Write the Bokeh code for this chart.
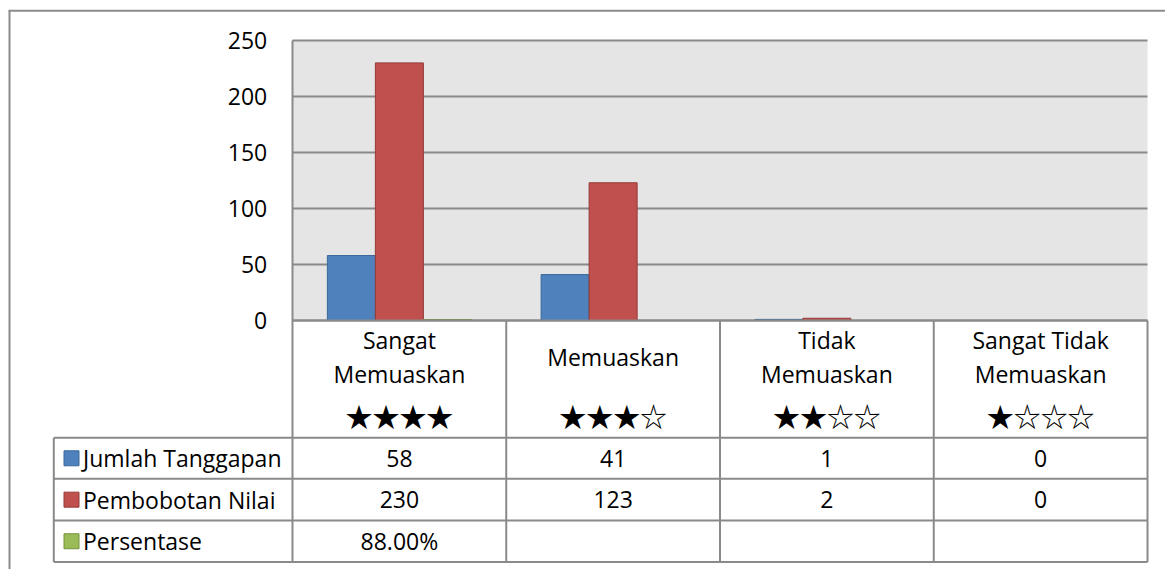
import numpy as np
from bokeh.plotting import figure
from bokeh.models import Range1d, ColumnDataSource
from bokeh.core.properties import value
from bokeh.embed import file_html
from bokeh.resources import INLINE

# ---------------- data ----------------
categories = ["Sangat Memuaskan", "Memuaskan", "Tidak Memuaskan", "Sangat Tidak Memuaskan"]
stars = ["★★★★", "★★★☆", "★★☆☆", "★☆☆☆"]
series_names = ["Jumlah Tanggapan", "Pembobotan Nilai", "Persentase"]
jumlah_tanggapan = [58, 41, 1, 0]
pembobotan_nilai = [230, 123, 2, 0]
persentase = [88.00, None, None, None]   # percent
y_ticks = [0, 50, 100, 150, 200, 250]

fill_colors = ["#4f81bd", "#c0504d", "#9bbb59"]
line_colors = ["#3a6899", "#953a37", "#76923c"]

# ---------------- layout (canvas pixels) ----------------
W, H = 1165, 569
PX0, PX1 = 292, 1147      # plot area left/right
PY0, PY1 = 40, 320        # plot area top/bottom
YMAX = y_ticks[-1]
ROWS = [437.3, 478.3, 520.0, 561.5]   # table row separators
LEG_X0 = 53.3
GRID = "#8a8a8a"
FONT = value("Open Sans")
FS = "23px"

n = len(categories)
ppu_x = (PX1 - PX0) / n
ppu_y = (PY1 - PY0) / YMAX

p = figure(width=W, height=H, x_range=Range1d(0, W), y_range=Range1d(H, 0),
           min_border=0, toolbar_location=None, output_backend="svg")
p.axis.visible = False
p.xgrid.visible = False
p.ygrid.visible = False
p.outline_line_color = None
p.background_fill_color = "white"
p.border_fill_color = "white"

p.extra_x_ranges = {"cat": Range1d(-PX0 / ppu_x, n + (W - PX1) / ppu_x)}
p.extra_y_ranges = {"val": Range1d(-(H - PY1) / ppu_y, YMAX + PY0 / ppu_y)}

# outer chart frame
p.segment(x0=[8, 9], y0=[10.3, 10.3], x1=[W, 9], y1=[10.3, H], line_color="#8c8c8c", line_width=2)

# plot area background
p.quad(left=[0], right=[n], bottom=[0], top=[YMAX], x_range_name="cat", y_range_name="val",
       fill_color="#e5e5e5", line_color=None)

# grid lines
p.segment(x0=[0] * len(y_ticks), x1=[n] * len(y_ticks), y0=y_ticks, y1=y_ticks,
          x_range_name="cat", y_range_name="val", line_color=GRID, line_width=2)

# bars
bar_w = 0.2246
series_vals = [jumlah_tanggapan, pembobotan_nilai,
               [v / 100 if v is not None else np.nan for v in persentase]]
idx = np.arange(n) + 0.5
for k, vals in enumerate(series_vals):
    v = np.array([np.nan if (x is None or x == 0) else x for x in vals], dtype=float)
    src = ColumnDataSource(dict(x=idx + (k - 1) * bar_w, top=v))
    p.vbar(x="x", top="top", bottom=0, width=bar_w, source=src,
           x_range_name="cat", y_range_name="val",
           fill_color=fill_colors[k], line_color=line_colors[k], line_width=1)

# re-draw axis line on top
p.segment(x0=[0], x1=[n], y0=[0], y1=[0], x_range_name="cat", y_range_name="val",
          line_color=GRID, line_width=2)

# table lines
p.segment(x0=[LEG_X0] * len(ROWS), x1=[PX1] * len(ROWS), y0=ROWS, y1=ROWS,
          line_color=GRID, line_width=2)
p.segment(x0=[LEG_X0, PX0], x1=[LEG_X0, PX0], y0=[ROWS[0], PY0], y1=[ROWS[-1], ROWS[-1]],
          line_color=GRID, line_width=2)
p.segment(x0=list(range(1, n + 1)), x1=list(range(1, n + 1)), y0=[PY1] * n, y1=[ROWS[-1]] * n,
          x_range_name="cat", line_color=GRID, line_width=2)

# y tick labels
p.text(x=[PX0 - 25.3] * len(y_ticks), y=y_ticks, text=[str(t) for t in y_ticks],
       y_range_name="val", text_font=FONT, text_font_size=FS, text_align="right",
       text_baseline="middle", text_color="black")

# header labels (first words on line 1, last word on line 2; single word centred)
l1_x, l1_t, l2_x, l2_t, s_x, s_t = [], [], [], [], [], []
for i, c in enumerate(categories):
    w = c.split(" ")
    if len(w) > 1:
        l1_x.append(idx[i]); l1_t.append(" ".join(w[:-1]))
        l2_x.append(idx[i]); l2_t.append(w[-1])
    else:
        s_x.append(idx[i]); s_t.append(c)
for xs, ts, yy in [(l1_x, l1_t, 339), (l2_x, l2_t, 373), (s_x, s_t, 356)]:
    p.text(x=xs, y=[yy] * len(xs), text=ts, x_range_name="cat", text_font=FONT,
           text_font_size=FS, text_align="center", text_baseline="middle", text_color="black")
p.text(x=idx, y=[415] * n, text=stars, x_range_name="cat", text_font=value("Noto Sans CJK JP"),
       text_font_size="27px", text_align="center", text_baseline="middle", text_color="black")

# data rows
row_c = [(ROWS[i] + ROWS[i + 1]) / 2 for i in range(3)]
row_text = [[str(v) for v in jumlah_tanggapan],
            [str(v) for v in pembobotan_nilai],
            ["%.2f%%" % v if v is not None else "" for v in persentase]]
for r in range(3):
    p.text(x=idx, y=[row_c[r]] * n, text=row_text[r], x_range_name="cat", text_font=FONT,
           text_font_size=FS, text_align="center", text_baseline="middle", text_color="black")
    p.rect(x=[71], y=[row_c[r]], width=15, height=15, fill_color=fill_colors[r],
           line_color=line_colors[r], line_width=1)
p.text(x=[82.5] * 3, y=row_c, text=series_names, text_font=FONT, text_font_size=FS,
       text_align="left", text_baseline="middle", text_color="black")

open("out.html", "w").write(file_html(p, INLINE))
